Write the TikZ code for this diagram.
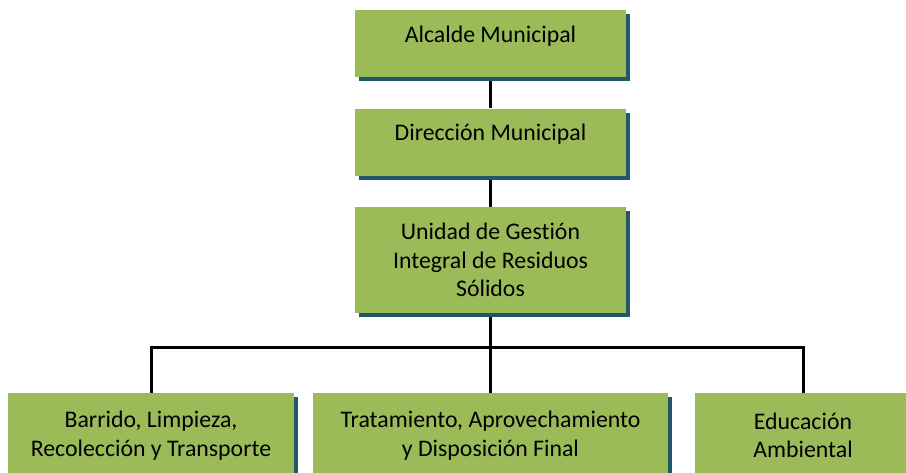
\documentclass[tikz,border=0pt]{standalone}
\usepackage{fontspec}
\setmainfont{Carlito}[Ligatures=CommonOff]
\usetikzlibrary{shadows,backgrounds}
\definecolor{boxgreen}{HTML}{9BBB59}
\definecolor{boxshade}{HTML}{215868}

\begin{document}
\begin{tikzpicture}[
      x=1pt, y=-1pt,
      every node/.style={font=\fontsize{23.8}{28.5}\selectfont},
      orgbox/.style={fill=boxgreen, inner sep=0pt, align=center,
        general shadow={fill=boxshade, shadow xshift=4pt, shadow yshift=-4pt}},
      topbox/.style={orgbox, minimum width=271pt, minimum height=67pt, text depth=19pt},
      midbox/.style={orgbox, minimum width=271pt, minimum height=106pt},
      lowbox/.style={orgbox, minimum height=85pt},
      link/.style={line width=3pt}
    ]
      \useasboundingbox (0,0) rectangle (906,472);
      \clip (0,0) rectangle (906,472);

      \node[topbox] (alc) at (490.5,43.5) {Alcalde Municipal};
      \node[topbox] (dir) at (490.5,142) {Dirección Municipal};
      \node[midbox] (ugi) at (490.5,260) {Unidad de Gestión\\Integral de Residuos\\Sólidos};

      \node[lowbox, minimum width=286pt] (bar) at (151,435.5) {Barrido, Limpieza,\\Recolección y Transporte};
      \node[lowbox, minimum width=355pt] (tra) at (490.5,435.5) {Tratamiento, Aprovechamiento\\y Disposición Final};
      \node[lowbox, minimum width=216pt] (edu) at (803,435.5) {Educación\\Ambiental};

      \coordinate (bus) at (490.5,347);

      \begin{scope}[on background layer]
        \draw[link] (alc) -- (dir);
        \draw[link] (dir) -- (ugi);
        \draw[link] (ugi.south) -- (tra.north);
        \draw[link] (bar.north) |- (bus) -| (edu.north);
      \end{scope}
    \end{tikzpicture}
\end{document}
